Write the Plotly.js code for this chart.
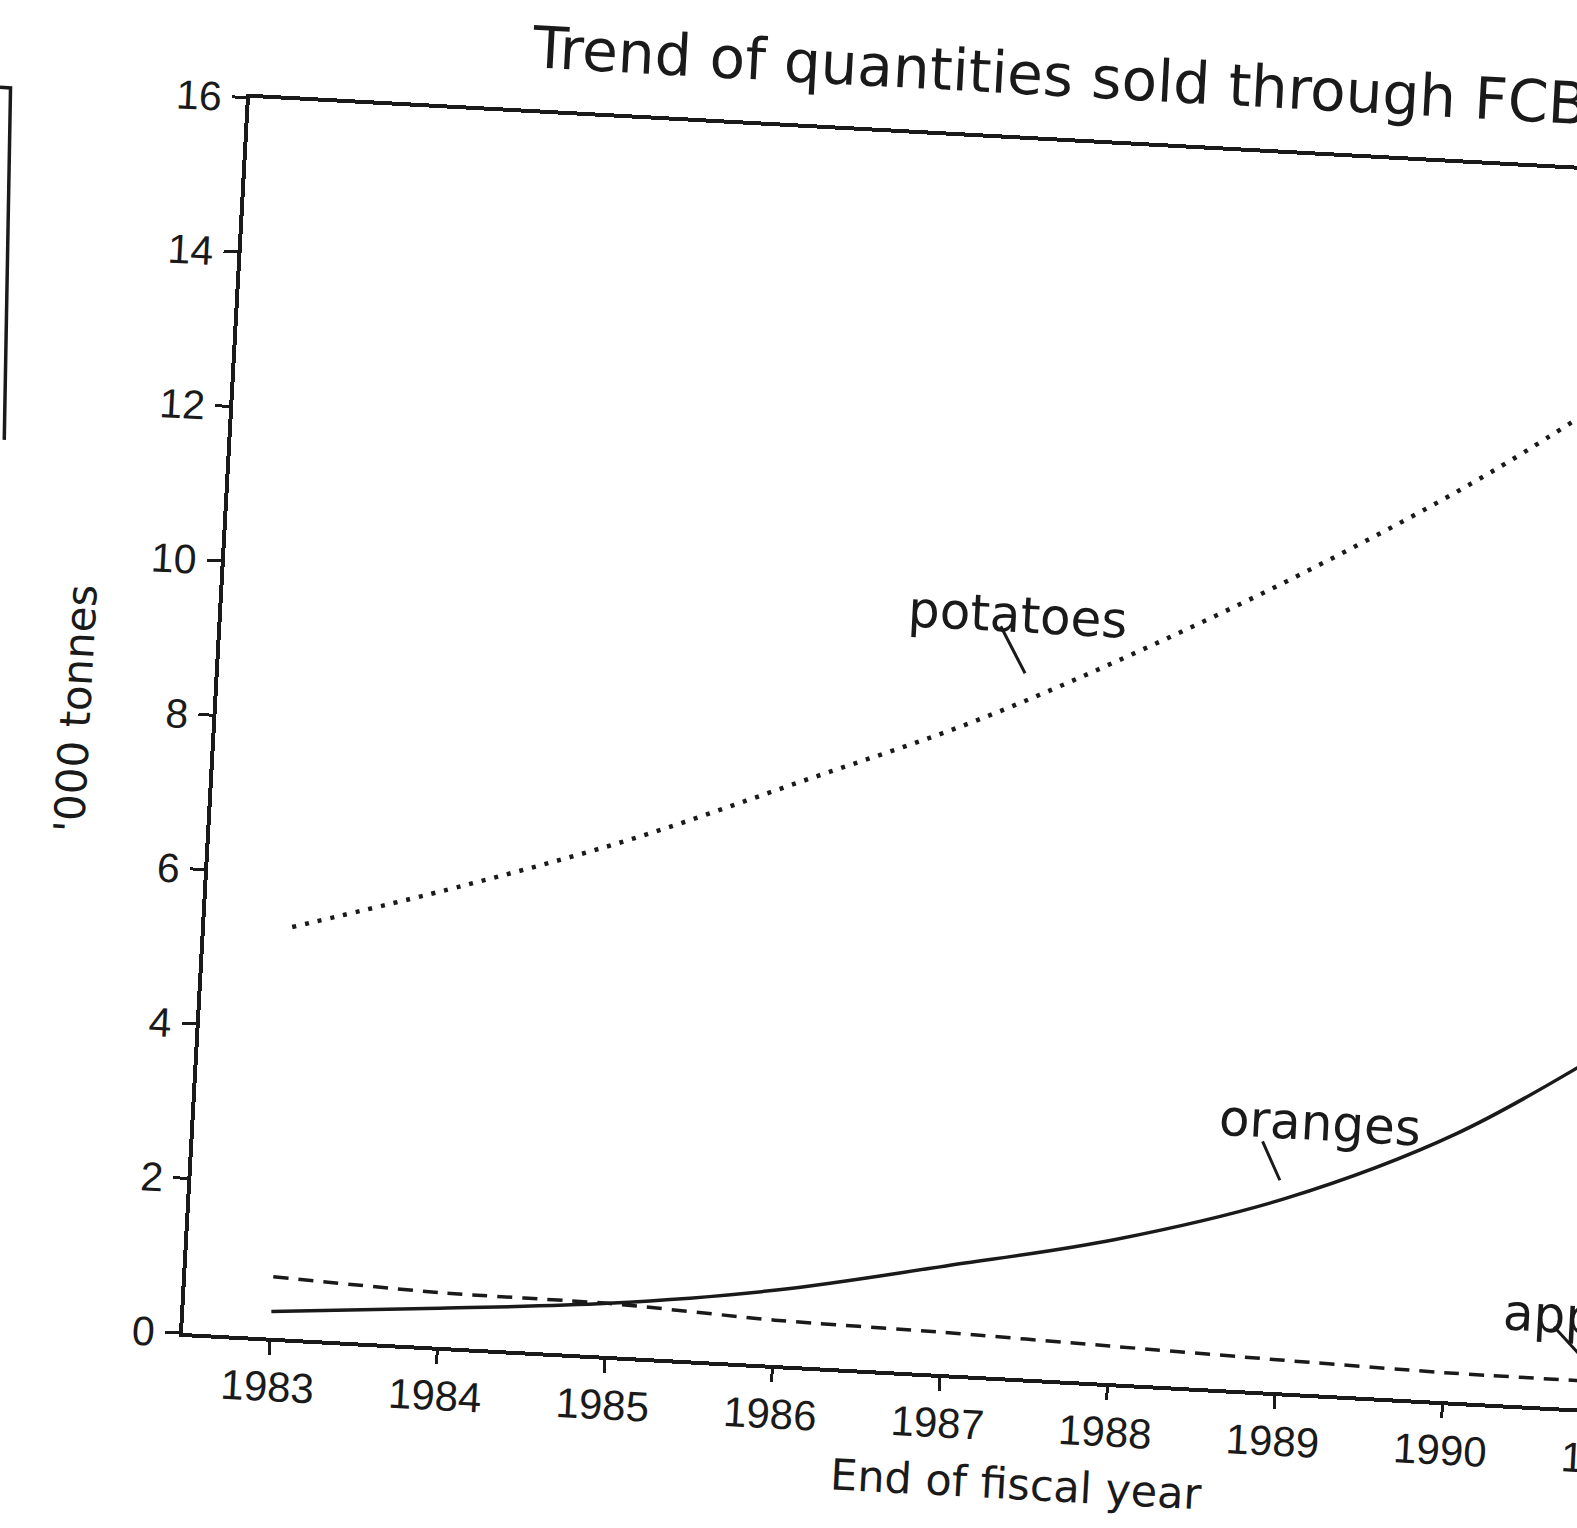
<!DOCTYPE html>
<html>
<head>
<meta charset="utf-8">
<script src="https://cdn.plot.ly/plotly-3.0.1.min.js"></script>
<style>
  html, body { margin: 0; padding: 0; background: #ffffff; width: 1577px; height: 1528px; overflow: hidden; }
  #chart {
    position: absolute; left: -100px; top: 0px;
    width: 1900px; height: 1560px;
    transform-origin: 283px 1333px;
    transform: rotate(3.1deg);
  }
</style>
</head>
<body>
<div id="chart"></div>
<script>
// ---- data ('000 tonnes, end of fiscal year) ----
const years    = [1983, 1984, 1985, 1986, 1987, 1988, 1989, 1990, 1991];
const potatoes = [5.32, 5.97, 6.70, 7.57, 8.46, 9.53, 10.72, 12.05, 13.6];
const oranges  = [0.34, 0.50, 0.68, 0.97, 1.40, 1.86, 2.51, 3.47, 4.85];
const apples   = [0.79, 0.70, 0.68, 0.58, 0.54, 0.48, 0.42, 0.37, 0.36];
const yTicks   = [0, 2, 4, 6, 8, 10, 12, 14, 16];
const seriesNames = ['potatoes', 'oranges', 'apples'];

// label placement (text centre/left, leader tail, leader tip) in data units
const labelX   = [1987.22, 1989.18, 1990.32];
const labelY   = [9.86, 3.51, 1.19];
const tailX    = [1987.115, 1988.84, 1990.63];
const tailY    = [9.72, 3.25, 1.06];
const tipX     = [1987.28, 1988.96, 1990.87];
const tipY     = [9.11, 2.74, 0.55];

const ink = '#1a1a1a';
const titleText = 'Trend of quantities sold through FCB';
const xTitle = 'End of fiscal year';
const yTitle = "'000 tonnes";

const traces = [
  { x: years, y: potatoes, name: seriesNames[0], mode: 'lines',
    line: { color: ink, width: 4.5, dash: '4px,9px', shape: 'spline', smoothing: 1 } },
  { x: years, y: oranges, name: seriesNames[1], mode: 'lines',
    line: { color: ink, width: 3.5, shape: 'spline', smoothing: 1 } },
  { x: years, y: apples, name: seriesNames[2], mode: 'lines',
    line: { color: ink, width: 3.5, dash: '15px,10px', shape: 'spline', smoothing: 0.6 } }
];

const annotations = [];
for (let i = 0; i < seriesNames.length; i++) {
  annotations.push({
    x: labelX[i], y: labelY[i], xref: 'x', yref: 'y',
    text: seriesNames[i], showarrow: false,
    xanchor: i === 2 ? 'left' : 'center', yanchor: 'middle',
    font: { family: 'DejaVu Sans', size: 50, color: ink }
  });
  annotations.push({
    x: tipX[i], y: tipY[i], xref: 'x', yref: 'y',
    ax: tailX[i], ay: tailY[i], axref: 'x', ayref: 'y',
    text: '', showarrow: true, arrowhead: 0, arrowwidth: 3, arrowcolor: ink,
    standoff: 0, startstandoff: 0, font: { size: 1 }
  });
}
annotations.push({
  x: 1987.49, y: 0, xref: 'x', yref: 'y', yshift: -106,
  text: xTitle, showarrow: false, xanchor: 'center', yanchor: 'middle',
  font: { family: 'DejaVu Sans', size: 43, color: ink }
});
annotations.push({
  x: 0, y: 7.99, xref: 'paper', yref: 'y', xshift: -141,
  text: yTitle, showarrow: false, textangle: -90, xanchor: 'center', yanchor: 'middle',
  font: { family: 'DejaVu Sans', size: 42, color: ink }
});

const layout = {
  width: 1900, height: 1560,
  margin: { l: 283, r: 20, t: 96.2, b: 226.8, pad: 0 },
  paper_bgcolor: '#ffffff', plot_bgcolor: '#ffffff',
  showlegend: false,
  title: {
    text: titleText, xref: 'paper', x: 0.1753, xanchor: 'left',
    yref: 'container', y: 1 - 30 / 1560, yanchor: 'middle',
    font: { family: 'DejaVu Sans', size: 58, color: ink }
  },
  xaxis: {
    range: [1982.481, 1992.0], tickvals: years, ticktext: years.map(String),
    ticks: 'outside', ticklen: 13, tickwidth: 3, tickcolor: ink,
    showline: true, linewidth: 4, linecolor: ink, mirror: true,
    showgrid: false, zeroline: false, ticklabelstandoff: -4,
    tickfont: { family: 'Liberation Sans', size: 42, color: ink }
  },
  yaxis: {
    range: [0, 16], tickvals: yTicks,
    ticks: 'outside', ticklen: 14, tickwidth: 3, tickcolor: ink,
    showline: true, linewidth: 4, linecolor: ink, mirror: true,
    showgrid: false, zeroline: false, ticklabelstandoff: 2,
    tickfont: { family: 'Liberation Sans', size: 41, color: ink }
  },
  annotations: annotations,
  shapes: [
    { type: 'path', xref: 'paper', yref: 'y',
      path: 'M -0.1566 15.96 L -0.1500 15.96 L -0.1420 11.41',
      line: { color: ink, width: 3.5 } }
  ]
};

Plotly.newPlot('chart', traces, layout, { staticPlot: true, displayModeBar: false });
</script>
</body>
</html>
